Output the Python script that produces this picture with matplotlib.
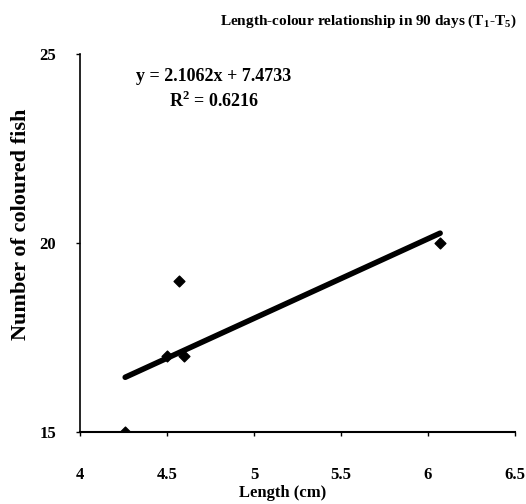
import numpy as np
import matplotlib.pyplot as plt

# data
length_cm = [4.26, 4.5, 4.6, 4.57, 6.07]
coloured_fish = [15, 17, 17, 19, 20]
slope = 2.1062
intercept = 7.4733
r_squared = 0.6216

x_ticks = [4, 4.5, 5, 5.5, 6, 6.5]
x_tick_labels = ['4', '4.5', '5', '5.5', '6', '6.5']
y_ticks = [15, 20, 25]

plt.rcParams['font.family'] = ['Liberation Serif', 'DejaVu Serif']
plt.rcParams['font.weight'] = 'bold'

fig = plt.figure(figsize=(5.26, 5.04), dpi=100)
ax = fig.add_axes([0.152, 0.143, 0.827, 0.750])

# trend line over the data range
xs = np.array([min(length_cm), max(length_cm)])
ax.plot(xs, slope * xs + intercept, color='black', lw=4, solid_capstyle='round', zorder=2)
ax.scatter(length_cm, coloured_fish, marker='D', s=30, color='black', zorder=3)

ax.set_xlim(4, 6.5)
ax.set_ylim(15, 25)
ax.set_xticks(x_ticks)
ax.set_xticklabels(x_tick_labels)
ax.set_yticks(y_ticks)

for s in ['top', 'right']:
    ax.spines[s].set_visible(False)
ax.spines['left'].set_linewidth(1.2)
ax.spines['bottom'].set_linewidth(1.5)
ax.tick_params(axis='x', length=3, width=1, pad=22, labelsize=12)
ax.tick_params(axis='y', length=3, width=1, pad=14, labelsize=12)

fig.text(0.537, 0.022, 'Length (cm)', ha='center', va='center', fontsize=12, fontweight='bold')
fig.text(0.040, 0.555, 'Number of coloured fish', ha='center', va='center', rotation=90,
         fontsize=16, fontweight='bold')

fig.text(0.983, 0.958, 'Length-colour relationship in 90 days (T$_\\mathregular{1}$-T$_\\mathregular{5}$)',
         ha='right', va='center', fontsize=11, fontweight='bold')

ax.text(0.308, 0.94, 'y = %.4fx + %.4f' % (slope, intercept), transform=ax.transAxes,
        ha='center', va='center', fontsize=13, fontweight='bold')
ax.text(0.308, 0.875, 'R$^\\mathregular{2}$ = %.4f' % r_squared, transform=ax.transAxes,
        ha='center', va='center', fontsize=13, fontweight='bold')

fig.savefig('out.png', dpi=100)
